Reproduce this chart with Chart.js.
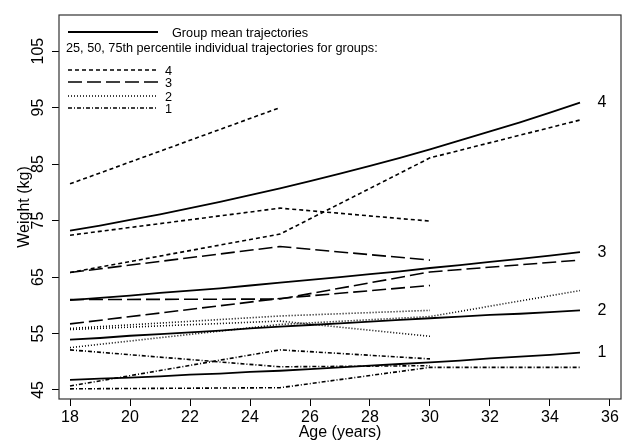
<!DOCTYPE html>
<html>
<head>
<meta charset="utf-8">
<title>Weight trajectories</title>
<script src="https://cdn.jsdelivr.net/npm/chart.js@4.4.1/dist/chart.umd.min.js"></script>
<style>
    html, body { margin: 0; padding: 0; background: #fff; }
    #wrap { width: 626px; height: 441px; }
</style>
</head>
<body>
<div id="wrap"><canvas id="weightChart" width="626" height="441"></canvas></div>
<script>
// Mean trajectories, one value per year of age
const meanAges = [18, 19, 20, 21, 22, 23, 24, 25, 26, 27, 28, 29, 30, 31, 32, 33, 34, 35];
const mean4 = [73.2, 74.1, 75.1, 76.1, 77.2, 78.3, 79.5, 80.7, 82.0, 83.3, 84.7, 86.1, 87.6, 89.2, 90.8, 92.4, 94.1, 95.9];
const mean3 = [60.9, 61.3, 61.7, 62.2, 62.6, 63.0, 63.5, 64.0, 64.5, 65.0, 65.5, 66.0, 66.6, 67.1, 67.7, 68.2, 68.8, 69.4];
const mean2 = [53.9, 54.2, 54.6, 54.9, 55.2, 55.5, 55.9, 56.2, 56.5, 56.8, 57.1, 57.4, 57.7, 58.0, 58.3, 58.5, 58.8, 59.1];
const mean1 = [46.8, 47.0, 47.2, 47.4, 47.7, 47.9, 48.2, 48.4, 48.7, 49.0, 49.3, 49.6, 49.9, 50.2, 50.6, 50.9, 51.2, 51.6];

// 25th / 50th / 75th percentile individuals, measured at these ages (null = no visit)
const visitAges = [18, 25, 30, 35];
const group4Lines = [[81.5, 95.0, null, null], [72.4, 77.2, 74.9, null], [65.8, 72.6, 86.1, 92.8]];
const group3Lines = [[65.8, 70.4, 68.0, null], [61.0, 61.1, 65.9, 68.0], [56.7, 61.2, 63.5, null]];
const group2Lines = [[55.9, 58.1, 59.1, null], [52.5, 56.6, 58.0, 62.6], [55.7, 57.2, 54.5, null]];
const group1Lines = [[52.1, 49.1, 49.3, null], [45.7, 52.1, 50.5, null], [45.2, 45.4, 49.0, 49.0]];

const groupNames = ['4', '3', '2', '1'];
const xTicks = [18, 20, 22, 24, 26, 28, 30, 32, 34, 36];
const yTicks = [45, 55, 65, 75, 85, 95, 105];
const legendMean = 'Group mean trajectories';
const legendIndiv = '25, 50, 75th percentile individual trajectories for groups:';

const FONT = '"Liberation Sans", Arial, sans-serif';
const dashes = { '4': [4, 3], '3': [14, 5], '2': [1, 2], '1': [4, 2, 1, 2] };

function toPoints(ages, values) {
    const pts = [];
    ages.forEach((a, i) => {
        if (values[i] !== null) pts.push({ x: a, y: values[i] });
    });
    return pts;
}

const datasets = [];
const means = { '4': mean4, '3': mean3, '2': mean2, '1': mean1 };
const indiv = { '4': group4Lines, '3': group3Lines, '2': group2Lines, '1': group1Lines };

groupNames.forEach(g => {
    datasets.push({
        label: 'mean ' + g,
        data: toPoints(meanAges, means[g]),
        borderColor: '#000',
        borderWidth: 1.8,
        pointRadius: 0,
        fill: false,
        groupLabel: g
    });
    indiv[g].forEach((vals, k) => {
        datasets.push({
            label: 'group ' + g + ' individual ' + (k + 1),
            data: toPoints(visitAges, vals),
            borderColor: '#000',
            borderWidth: 1.6,
            borderDash: dashes[g],
            pointRadius: 0,
            fill: false
        });
    });
});

// legend box and group numbers at the end of the mean lines
const annotations = {
    id: 'annotations',
    afterDatasetsDraw(chart) {
        const ctx = chart.ctx;
        const area = chart.chartArea;
        ctx.save();
        ctx.strokeStyle = '#333';
        ctx.lineWidth = 1.2;
        ctx.setLineDash([]);
        ctx.strokeRect(area.left, area.top, area.right - area.left, area.bottom - area.top);

        ctx.fillStyle = '#000';
        ctx.strokeStyle = '#000';
        ctx.textBaseline = 'middle';
        ctx.textAlign = 'left';
        ctx.font = '12.7px ' + FONT;

        ctx.lineWidth = 1.8;
        ctx.beginPath();
        ctx.moveTo(68, 32);
        ctx.lineTo(158, 32);
        ctx.stroke();
        ctx.fillText(legendMean, 172, 33);
        ctx.fillText(legendIndiv, 66, 48);

        const rowY = [70, 82, 96, 108];
        ctx.lineWidth = 1.6;
        groupNames.forEach((g, i) => {
            ctx.setLineDash(dashes[g]);
            ctx.beginPath();
            ctx.moveTo(68, rowY[i]);
            ctx.lineTo(158, rowY[i]);
            ctx.stroke();
            ctx.fillText(g, 165, rowY[i] + 1.5);
        });
        ctx.setLineDash([]);

        const xs = chart.scales.x;
        const ys = chart.scales.y;
        ctx.font = '16px ' + FONT;
        ctx.textAlign = 'center';
        groupNames.forEach(g => {
            const vals = means[g];
            const px = xs.getPixelForValue(meanAges[meanAges.length - 1]) + 22;
            const py = ys.getPixelForValue(vals[vals.length - 1]);
            ctx.fillText(g, px, py);
        });
        ctx.restore();
    }
};

new Chart(document.getElementById('weightChart'), {
    type: 'line',
    data: { datasets: datasets },
    options: {
        responsive: false,
        animation: false,
        events: [],
        layout: { padding: { top: 15, right: 5, left: 0, bottom: 0 } },
        plugins: {
            legend: { display: false },
            tooltip: { enabled: false }
        },
        elements: { line: { tension: 0 } },
        scales: {
            x: {
                type: 'linear',
                min: 17.633,
                max: 36.367,
                afterBuildTicks: scale => { scale.ticks = xTicks.map(v => ({ value: v })); },
                afterFit: scale => { scale.height = 42; },
                border: { display: false },
                grid: { drawOnChartArea: false, drawTicks: true, tickLength: 7, color: '#000' },
                ticks: { color: '#000', font: { family: FONT, size: 16 }, padding: 2, maxRotation: 0 },
                title: {
                    display: true,
                    text: 'Age (years)',
                    color: '#000',
                    font: { family: FONT, size: 16, lineHeight: 1 },
                    padding: { top: 0, bottom: 0 }
                }
            },
            y: {
                type: 'linear',
                min: 43.4,
                max: 111.4,
                afterBuildTicks: scale => { scale.ticks = yTicks.map(v => ({ value: v })); },
                afterFit: scale => { scale.width = 59; },
                border: { display: false },
                grid: { drawOnChartArea: false, drawTicks: true, tickLength: 7, color: '#000' },
                ticks: {
                    color: '#000',
                    font: { family: FONT, size: 16 },
                    padding: 0,
                    minRotation: 90,
                    maxRotation: 90,
                    crossAlign: 'center'
                },
                title: {
                    display: true,
                    text: 'Weight (kg)',
                    color: '#000',
                    font: { family: FONT, size: 16, lineHeight: 1 },
                    padding: { top: 17, bottom: 0 }
                }
            }
        }
    },
    plugins: [annotations]
});
</script>
</body>
</html>
